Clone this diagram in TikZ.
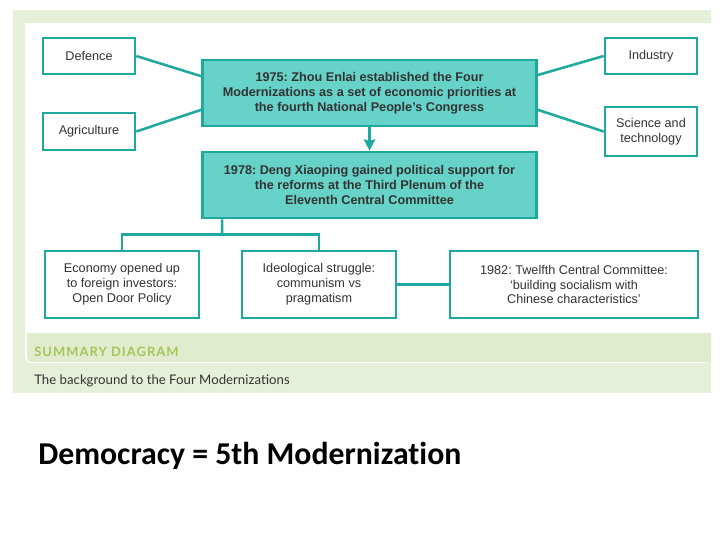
\documentclass[tikz,border=0pt]{standalone}
\usepackage{fontspec}
\setmainfont{Liberation Sans}
\newfontfamily\calibrifont[Ligatures={NoCommon,NoRequired}]{Carlito}
\newfontfamily\gillfont{Lato}
\newfontfamily\spacedfont[LetterSpace=8]{Lato}
\usepackage{tikz}
\usetikzlibrary{arrows,arrows.meta,calc,positioning}
\definecolor{tealline}{HTML}{1FA89E}
\definecolor{tealfill}{HTML}{66D2C8}
\definecolor{panelgreen}{HTML}{E6EFD8}
\definecolor{bandgreen}{HTML}{E1ECCF}
\definecolor{summarygreen}{HTML}{A3C657}
\definecolor{boxtext}{HTML}{333333}
\frenchspacing

\begin{document}
\begin{tikzpicture}[x=0.025cm, y=-0.025cm,
  sector/.style={draw=tealline, line width=1.8pt, fill=white, text=boxtext,
    align=center, inner sep=0pt, minimum width=2.3cm,
    font=\fontsize{9}{10.6}\selectfont},
  event/.style={draw=tealline, line width=1.8pt, fill=tealfill, text=boxtext,
    align=center, inner sep=0pt, minimum width=8.35cm, minimum height=1.65cm,
    font=\bfseries\fontsize{9}{10.6}\selectfont},
  outcome/.style={draw=tealline, line width=1.8pt, fill=white, text=boxtext,
    align=center, inner sep=0pt, minimum height=1.675cm,
    font=\fontsize{9}{10.6}\selectfont},
  link/.style={color=tealline, line width=1.8pt}]
\useasboundingbox (0,0) rectangle (720,540);
%
% Panel
\fill[panelgreen] (13,10) rectangle (711,393);
\fill[white, rounded corners=4pt] (25,23) rectangle (711,363);
\fill[white] (25,23) rectangle (711,340);
\fill[bandgreen, rounded corners=3pt] (27,333) rectangle (711,362);
\fill[bandgreen] (40,333) rectangle (711,362);
\fill[bandgreen] (27,333) rectangle (711,345);
\node[anchor=base west, inner sep=0pt, text=summarygreen, font=\spacedfont\bfseries\fontsize{9.2}{11}\selectfont] (summary) at (34,356) {SUMMARY DIAGRAM};
\node[anchor=base west, inner sep=0pt, text=boxtext, font=\gillfont\fontsize{9.4}{11}\selectfont] (caption) at (34,384) {The background to the Four Modernizations};
%
% Four modernizations
\node[sector, minimum height=0.9cm] (defence) at (89,56) {Defence};
\node[sector, minimum height=0.925cm] (agriculture) at (89,131.5) {Agriculture};
\node[sector, minimum height=0.9cm] (industry) at (651,56) {Industry};
\node[sector, minimum height=1.225cm] (science) at (651,131.5) {Science and\\technology};
%
% Events
\node[event] (zhou) at (369.5,93) {1975: Zhou Enlai established the Four\\Modernizations as a set of economic priorities at\\the fourth National People's Congress};
\node[event] (deng) at (369.5,185) {1978: Deng Xiaoping gained political support for\\the reforms at the Third Plenum of the\\Eleventh Central Committee};
%
% Outcomes
\node[outcome, minimum width=3.85cm] (economy) at (122,284.5) {Economy opened up\\to foreign investors:\\Open Door Policy};
\node[outcome, minimum width=3.85cm] (ideology) at (319,284.5) {Ideological struggle:\\communism vs\\pragmatism};
\node[outcome, minimum width=6.2cm] (twelfth) at (574,284.5) {1982: Twelfth Central Committee:\\`building socialism with\\Chinese characteristics'};
%
% Links
\draw[link] (defence.east) -- ([yshift=0.42cm]zhou.west);
\draw[link] (agriculture.east) -- ([yshift=-0.42cm]zhou.west);
\draw[link] (industry.west) -- ([yshift=0.45cm]zhou.east);
\draw[link] (science.west) -- ([yshift=-0.42cm]zhou.east);
\draw[link, -{Stealth[length=8pt,width=8pt,inset=1pt]}] (zhou.south) -- (deng.north);
\coordinate (fork) at ($(deng.south west)+(21,15)$);
\draw[link] ([xshift=0.525cm]deng.south west) -- (fork);
\draw[link] (economy.north) |- (fork) -| (ideology.north);
\draw[link] (ideology.east) -- (twelfth.west);
%
% Title
\node[anchor=base west, inner sep=0pt, font=\calibrifont\bfseries\fontsize{22.6}{27}\selectfont] (democracy) at (38,464) {Democracy = 5th Modernization};
\end{tikzpicture}
\end{document}
